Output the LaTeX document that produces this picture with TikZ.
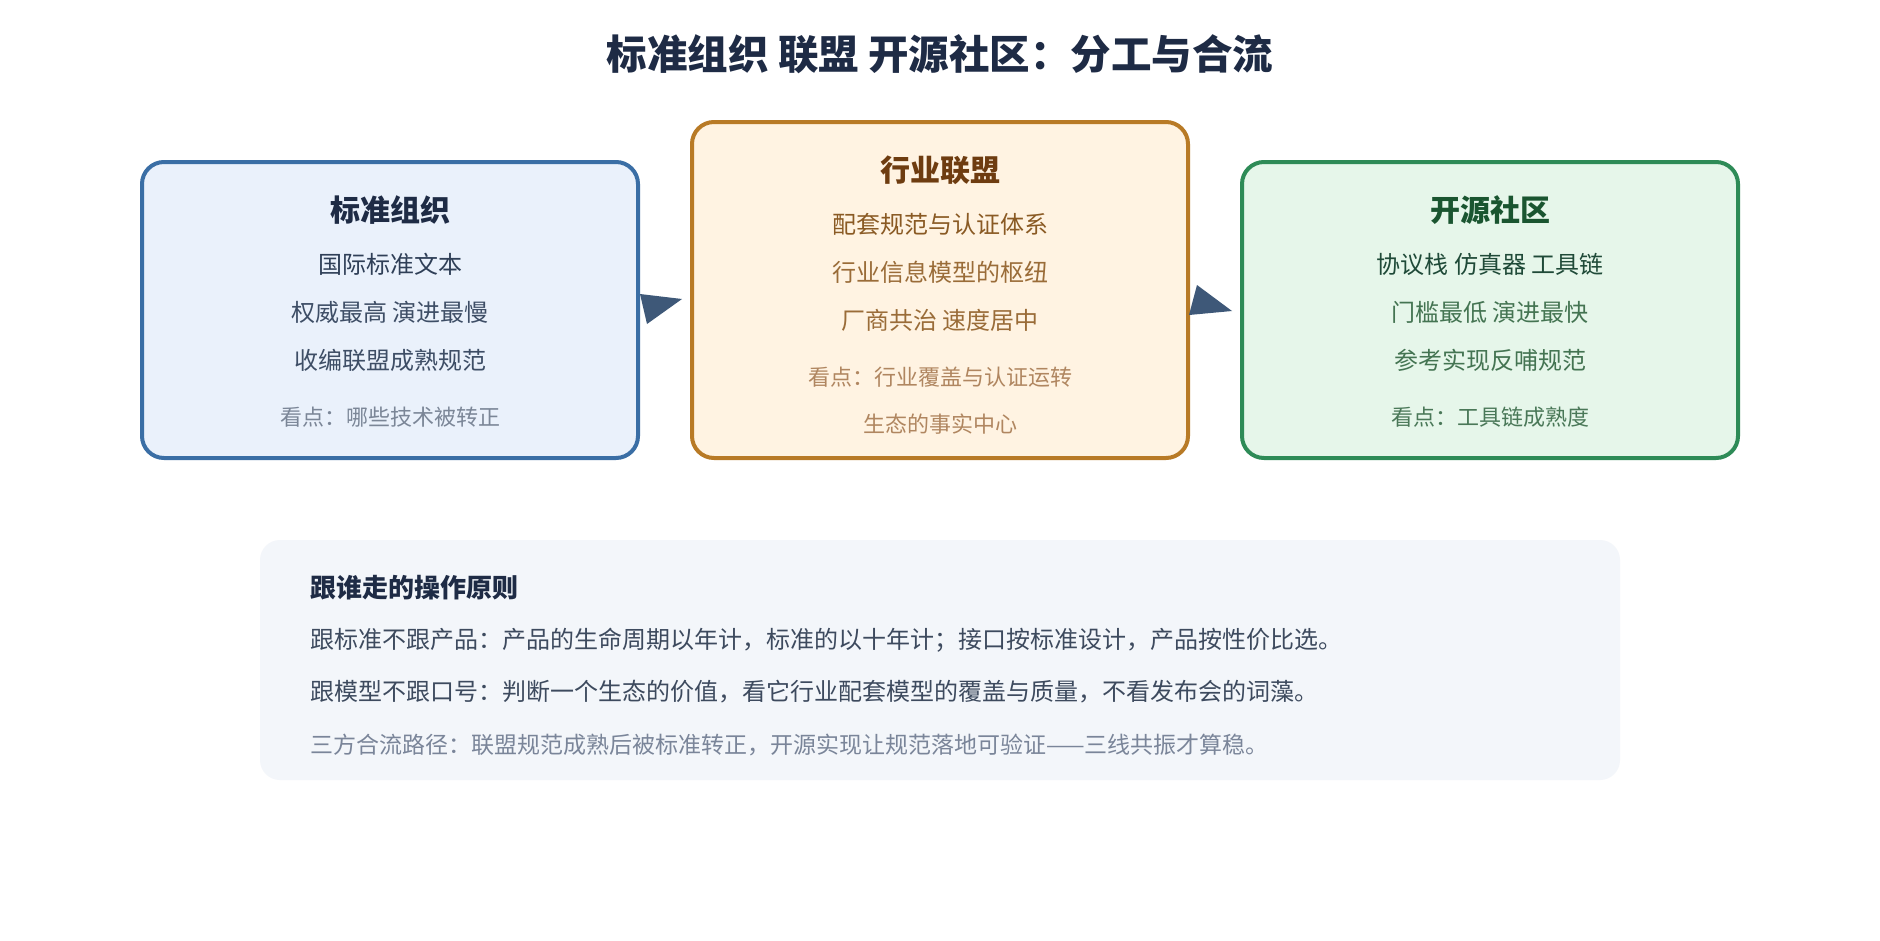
\documentclass[tikz,border=0pt]{standalone}
\usepackage{fontspec}
\setmainfont{Noto Sans CJK SC}
\definecolor{titlecol}{HTML}{1E2B45}
\definecolor{stdfill}{HTML}{EAF1FB}
\definecolor{stddraw}{HTML}{3A6EA5}
\definecolor{stdhead}{HTML}{1E2B45}
\definecolor{stdmain}{HTML}{2F3F57}
\definecolor{stdsub}{HTML}{3E4E66}
\definecolor{stdnote}{HTML}{7B8697}
\definecolor{allfill}{HTML}{FFF3E2}
\definecolor{alldraw}{HTML}{B87A26}
\definecolor{allhead}{HTML}{6E3C10}
\definecolor{allmain}{HTML}{8A5A24}
\definecolor{allsub}{HTML}{9A6C38}
\definecolor{allnote}{HTML}{B08660}
\definecolor{osfill}{HTML}{E6F6EA}
\definecolor{osdraw}{HTML}{2E8B57}
\definecolor{oshead}{HTML}{1A5530}
\definecolor{osmain}{HTML}{1F4A38}
\definecolor{ossub}{HTML}{447452}
\definecolor{osnote}{HTML}{4A7858}
\definecolor{arrowcol}{HTML}{3E5878}
\definecolor{panelfill}{HTML}{F3F6FA}
\definecolor{panelhead}{HTML}{1E2B45}
\definecolor{paneltext}{HTML}{3D4A5E}
\definecolor{panelnote}{HTML}{7A8599}
\begin{document}
\begin{tikzpicture}[x=1pt,y=-1pt,
  titlestyle/.style={font=\fontsize{40.5}{48}\selectfont\bfseries, text=titlecol, inner sep=0pt},
  card/.style={rounded corners=22pt, line width=4pt, minimum width=496pt, inner sep=0pt},
  headstyle/.style={font=\fontsize{30}{36}\selectfont\bfseries, inner sep=0pt},
  linestyle/.style={font=\fontsize{24}{28}\selectfont, inner sep=0pt},
  notestyle/.style={font=\fontsize{22}{26}\selectfont, inner sep=0pt},
  panelstyle/.style={rounded corners=20pt, fill=panelfill, minimum width=1360pt, minimum height=240pt, inner sep=0pt},
  phead/.style={font=\fontsize{26}{30}\selectfont\bfseries, text=panelhead, anchor=west, inner sep=0pt},
  ptext/.style={font=\fontsize{24}{28}\selectfont, text=paneltext, anchor=west, inner sep=0pt},
  pnote/.style={font=\fontsize{23}{27}\selectfont, text=panelnote, anchor=west, inner sep=0pt},
  arrowhead/.style={fill=arrowcol}
]
\useasboundingbox (0,0) rectangle (1880,940);
\fill[white] (0,0) rectangle (1880,940);

\node[titlestyle] (title) at (940,54) {标准组织 联盟 开源社区：分工与合流};

% cards
\node[card, draw=stddraw, fill=stdfill, minimum height=296pt] (std) at (390,310) {};
\node[card, draw=alldraw, fill=allfill, minimum height=336pt] (all) at (940,290) {};
\node[card, draw=osdraw, fill=osfill, minimum height=296pt] (os) at (1490,310) {};

% standard org text
\node[headstyle, text=stdhead] (std-h) at (390,210) {标准组织};
\node[linestyle, text=stdmain] (std-1) at (390,264) {国际标准文本};
\node[linestyle, text=stdsub] (std-2) at (390,312) {权威最高 演进最慢};
\node[linestyle, text=stdsub] (std-3) at (390,360) {收编联盟成熟规范};
\node[notestyle, text=stdnote] (std-n) at (390,417) {看点：哪些技术被转正};

% alliance text
\node[headstyle, text=allhead] (all-h) at (940,170) {行业联盟};
\node[linestyle, text=allmain] (all-1) at (940,224) {配套规范与认证体系};
\node[linestyle, text=allsub] (all-2) at (940,272) {行业信息模型的枢纽};
\node[linestyle, text=allsub] (all-3) at (940,320) {厂商共治 速度居中};
\node[notestyle, text=allnote] (all-n1) at (940,377) {看点：行业覆盖与认证运转};
\node[notestyle, text=allnote] (all-n2) at (940,424) {生态的事实中心};

% open source text
\node[headstyle, text=oshead] (os-h) at (1490,210) {开源社区};
\node[linestyle, text=osmain] (os-1) at (1490,264) {协议栈 仿真器 工具链};
\node[linestyle, text=ossub] (os-2) at (1490,312) {门槛最低 演进最快};
\node[linestyle, text=ossub] (os-3) at (1490,360) {参考实现反哺规范};
\node[notestyle, text=osnote] (os-n) at (1490,417) {看点：工具链成熟度};

% arrow heads between cards
\coordinate (a1top) at (640,294);
\coordinate (a1tip) at (682,299);
\coordinate (a1bot) at (647,324);
\fill[arrowhead] (a1top) -- (a1tip) -- (a1bot) -- cycle;
\coordinate (a2top) at (1197,285);
\coordinate (a2tip) at (1232,311);
\coordinate (a2bot) at (1189,315);
\fill[arrowhead] (a2top) -- (a2tip) -- (a2bot) -- cycle;

% bottom panel
\node[panelstyle] (panel) at (940,660) {};
\node[phead] (p-h) at (310,588) {跟谁走的操作原则};
\node[ptext] (p-1) at (310,640) {跟标准不跟产品：产品的生命周期以年计，标准的以十年计；接口按标准设计，产品按性价比选。};
\node[ptext] (p-2) at (310,692) {跟模型不跟口号：判断一个生态的价值，看它行业配套模型的覆盖与质量，不看发布会的词藻。};
\node[pnote] (p-3) at (310,745) {三方合流路径：联盟规范成熟后被标准转正，开源实现让规范落地可验证——三线共振才算稳。};
\end{tikzpicture}
\end{document}
